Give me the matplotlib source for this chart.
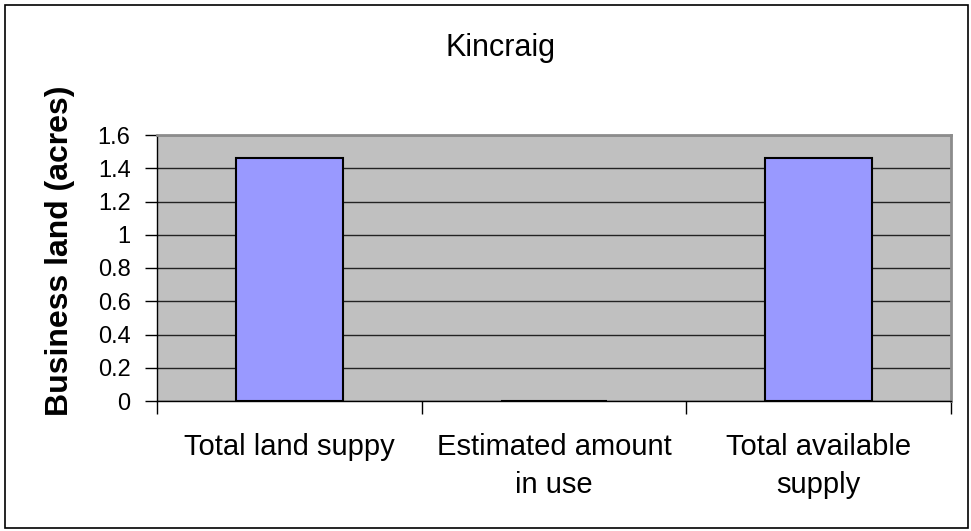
import matplotlib
matplotlib.use("Agg")
import matplotlib.pyplot as plt
from matplotlib.patches import Rectangle

plt.rcParams['font.family'] = ['Liberation Sans', 'DejaVu Sans']

categories = ['Total land suppy', 'Estimated amount\nin use', 'Total available\nsupply']
values = [1.46, 0, 1.46]
y_ticks = [0, 0.2, 0.4, 0.6, 0.8, 1, 1.2, 1.4, 1.6]
y_labels = ['0', '0.2', '0.4', '0.6', '0.8', '1', '1.2', '1.4', '1.6']

W, H = 971, 531
fig = plt.figure(figsize=(W / 100, H / 100), dpi=100)
ax = fig.add_axes([157 / W, 1 - 401 / H, 794 / W, 266 / H])

ax.set_facecolor('#C0C0C0')
x = list(range(len(categories)))
ax.bar(x, values, width=0.404, color='#9999FF', edgecolor='black', linewidth=1.5, zorder=3)

ax.set_xlim(-0.5, 2.5)
ax.set_ylim(0, 1.6)
ax.set_yticks(y_ticks)
ax.set_yticklabels(y_labels, fontsize=17)
ax.yaxis.grid(True, color='#222222', linewidth=1.0, zorder=1)

# category ticks sit between the groups, labels in the middle
ax.set_xticks([-0.5, 0.5, 1.5, 2.5])
ax.set_xticklabels([])
ax.set_xticks(x, minor=True)
ax.set_xticklabels(categories, minor=True, fontsize=21, linespacing=1.45)
ax.tick_params(axis='x', which='minor', length=0, pad=23)
ax.tick_params(axis='x', which='major', length=9, direction='out', width=1)
ax.tick_params(axis='y', length=9, direction='out', width=1, pad=10)

for side in ['top', 'right']:
    ax.spines[side].set_color('#8C8C8C')
    ax.spines[side].set_linewidth(2)
for side in ['left', 'bottom']:
    ax.spines[side].set_color('black')
    ax.spines[side].set_linewidth(1)

fig.text(500 / W, 1 - 56 / H, 'Kincraig', ha='center', va='baseline', fontsize=22)
fig.text(60 / W, 1 - 251 / H, 'Business land (acres)', ha='center', va='center',
         rotation=90, fontsize=23, fontweight='bold')

fig.patches.append(Rectangle((5 / W, 3 / H), 963 / W, 523 / H, transform=fig.transFigure,
                             fill=False, edgecolor='black', linewidth=1.2))

fig.savefig('out.png', dpi=100)
